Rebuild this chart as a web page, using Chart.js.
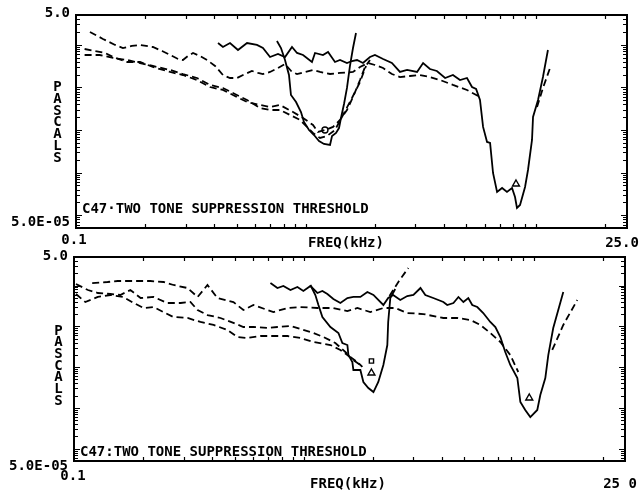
<!DOCTYPE html>
<html>
<head>
<meta charset="utf-8">
<script src="https://cdn.jsdelivr.net/npm/chart.js@4/dist/chart.umd.min.js"></script>
<style>
  html, body { margin: 0; padding: 0; background: #fff; }
  #wrap { position: relative; width: 640px; height: 495px; overflow: hidden; background: #fff; }
  canvas { position: absolute; left: 0; }
  #upper { top: 0; }
  #lower { top: 245px; }
</style>
</head>
<body>
<div id="wrap">
  <canvas id="upper" width="640" height="250"></canvas>
  <canvas id="lower" width="640" height="250"></canvas>
</div>
<script>
// Frequency in kHz, sound pressure in pascals. [kHz, Pa]; a null pressure breaks the line.

// ---- upper panel ----
const upperDashedHigh = [
  [0.115, 2.00], [0.131, 1.37], [0.148, 0.99], [0.160, 0.84], [0.175, 0.94], [0.190, 0.99],
  [0.216, 0.887], [0.237, 0.715], [0.257, 0.575], [0.278, 0.464], [0.292, 0.439], [0.307, 0.545],
  [0.323, 0.642], [0.346, 0.545], [0.372, 0.439], [0.403, 0.318], [0.436, 0.195], [0.468, 0.166],
  [0.502, 0.166], [0.544, 0.206], [0.583, 0.243], [0.620, 0.218], [0.651, 0.206], [0.699, 0.230],
  [0.757, 0.285], [0.812, 0.354], [0.871, 0.230], [0.916, 0.206], [0.992, 0.230], [1.075, 0.256],
  [1.153, 0.230], [1.275, 0.206], [1.409, 0.218], [1.605, 0.230], [1.722, 0.301], [1.866, 0.373],
  [2.00, 0.335], [2.17, 0.285], [2.37, 0.206], [2.57, 0.175], [2.84, 0.185], [3.14, 0.195],
  [3.47, 0.175], [3.84, 0.149], [4.37, 0.114], [5.03, 0.0869], [5.73, 0.0594],
  [8.0, null],
  [10.15, 0.0347], [10.77, 0.0968], [11.56, 0.285]
];
const upperDashedLowA = [
  [0.109, 0.796], [0.121, 0.715], [0.134, 0.642], [0.145, 0.516], [0.167, 0.394], [0.190, 0.394],
  [0.216, 0.301], [0.257, 0.230], [0.292, 0.195], [0.336, 0.149], [0.383, 0.102], [0.436, 0.0869],
  [0.482, 0.0662], [0.555, 0.0454], [0.632, 0.0386], [0.699, 0.0347], [0.772, 0.0386], [0.880, 0.0264],
  [0.973, 0.0191], [1.075, 0.0131], [1.130, 0.00897], [1.212, 0.00998], [1.314, 0.0118], [1.409, 0.0172],
  [1.511, 0.0294], [1.605, 0.0594], [1.722, 0.149], [1.810, 0.301], [1.903, 0.439]
];
const upperDashedLowB = [
  [0.109, 0.575], [0.127, 0.575], [0.145, 0.490], [0.167, 0.439], [0.190, 0.373], [0.216, 0.318],
  [0.257, 0.256], [0.292, 0.206], [0.336, 0.166], [0.383, 0.114], [0.436, 0.0968], [0.482, 0.0738],
  [0.555, 0.0505], [0.632, 0.0328], [0.699, 0.0294], [0.772, 0.0294], [0.854, 0.0225], [0.944, 0.0172],
  [1.012, 0.0118], [1.075, 0.00851], [1.153, 0.00649], [1.237, 0.00723], [1.340, 0.00998], [1.452, 0.0225],
  [1.589, 0.0564], [1.722, 0.134], [1.829, 0.318]
];
const upperSolidFirst = [
  [0.749, 1.23], [0.780, 0.84], [0.812, 0.439], [0.845, 0.195], [0.862, 0.0662], [0.907, 0.0454],
  [0.953, 0.0264], [0.982, 0.0154], [1.033, 0.00998], [1.086, 0.00762], [1.142, 0.00552], [1.200, 0.00469],
  [1.275, 0.00444], [1.301, 0.00723], [1.354, 0.00851], [1.395, 0.0111], [1.423, 0.0191], [1.467, 0.0407],
  [1.511, 0.0968], [1.557, 0.318], [1.605, 0.84], [1.654, 1.89]
];
const upperSolidSecond = [
  [0.415, 1.10], [0.436, 0.887], [0.468, 1.10], [0.507, 0.754], [0.555, 1.10], [0.613, 0.99],
  [0.651, 0.84], [0.699, 0.516], [0.757, 0.608], [0.812, 0.516], [0.871, 0.887], [0.916, 0.642],
  [0.973, 0.575], [1.064, 0.394], [1.097, 0.642], [1.188, 0.575], [1.250, 0.678], [1.340, 0.394],
  [1.409, 0.439], [1.511, 0.373], [1.589, 0.416], [1.671, 0.439], [1.774, 0.373], [1.903, 0.516],
  [2.00, 0.575], [2.17, 0.464], [2.37, 0.373], [2.57, 0.230], [2.76, 0.256], [3.05, 0.230],
  [3.24, 0.373], [3.47, 0.270], [3.72, 0.243], [4.04, 0.166], [4.37, 0.195], [4.69, 0.149],
  [5.03, 0.166], [5.29, 0.102], [5.51, 0.0917], [5.73, 0.0505], [5.91, 0.0118], [6.15, 0.00523],
  [6.34, 0.00495], [6.53, 0.000979], [6.80, 0.000351], [7.15, 0.000436], [7.51, 0.000351], [7.90, 0.000436],
  [8.14, 0.000267], [8.30, 0.000148], [8.56, 0.000174], [9.00, 0.000459], [9.27, 0.00115], [9.65, 0.00582],
  [9.75, 0.0202], [10.25, 0.0505], [10.77, 0.175], [11.32, 0.754]
];
const upperCircles = [[1.212, 0.00998]];
const upperTriangles = [[8.22, 0.000540]];

// ---- lower panel ----
const lowerDashedHigh = [
  [0.120, 1.15], [0.140, 1.22], [0.155, 1.29], [0.182, 1.29], [0.215, 1.29], [0.245, 1.22],
  [0.271, 1.03], [0.312, 0.869], [0.345, 0.524], [0.381, 1.03], [0.421, 0.494], [0.494, 0.394],
  [0.546, 0.251], [0.604, 0.333], [0.695, 0.251], [0.738, 0.224], [0.849, 0.281], [0.967, 0.297],
  [1.146, 0.281], [1.345, 0.281], [1.548, 0.237], [1.711, 0.281], [1.949, 0.224], [2.22, 0.281],
  [2.50, 0.281], [2.82, 0.212], [3.31, 0.200], [4.05, 0.160], [4.66, 0.160], [5.31, 0.143],
  [5.87, 0.108], [6.48, 0.0686], [7.17, 0.0413], [7.92, 0.0198], [8.58, 0.00759],
  [10.0, null],
  [12.06, 0.0263], [13.47, 0.108], [15.50, 0.442]
];
const lowerDashedMid = [
  [0.102, 1.09], [0.115, 0.776], [0.127, 0.656], [0.144, 0.619], [0.159, 0.586], [0.176, 0.776],
  [0.195, 0.494], [0.222, 0.524], [0.255, 0.373], [0.291, 0.373], [0.321, 0.394], [0.345, 0.251],
  [0.381, 0.189], [0.434, 0.160], [0.494, 0.121], [0.546, 0.0962], [0.604, 0.0962], [0.695, 0.0910],
  [0.768, 0.0962], [0.875, 0.102], [0.967, 0.0859], [1.101, 0.0686], [1.217, 0.0547], [1.372, 0.0390],
  [1.517, 0.0235], [1.595, 0.0177], [1.711, 0.0133], [1.799, 0.0101],
  [2.1, null],
  [2.36, 0.553], [2.58, 1.22], [2.85, 2.69]
];
const lowerDashedLow = [
  [0.102, 0.619], [0.112, 0.394], [0.127, 0.524], [0.144, 0.586], [0.164, 0.524], [0.182, 0.373],
  [0.201, 0.281], [0.222, 0.297], [0.245, 0.224], [0.271, 0.169], [0.312, 0.160], [0.355, 0.128],
  [0.405, 0.108], [0.465, 0.0813], [0.514, 0.0547], [0.568, 0.0518], [0.648, 0.0579], [0.738, 0.0579],
  [0.849, 0.0579], [0.967, 0.0518], [1.101, 0.0413], [1.306, 0.0348], [1.443, 0.0263], [1.548, 0.0198],
  [1.644, 0.0149], [1.763, 0.0113]
];
const lowerSolidFirst = [
  [1.069, 1.03], [1.123, 0.586], [1.158, 0.333], [1.205, 0.169], [1.306, 0.0962], [1.415, 0.0686],
  [1.472, 0.0390], [1.548, 0.0348], [1.564, 0.0198], [1.627, 0.0133], [1.644, 0.00849], [1.763, 0.00849],
  [1.817, 0.00432], [1.910, 0.00308], [2.01, 0.00245], [2.11, 0.00432], [2.22, 0.0113], [2.31, 0.0348],
  [2.33, 0.128], [2.38, 0.494], [2.50, 0.822]
];
const lowerSolidSecond = [
  [0.716, 1.15], [0.768, 0.869], [0.815, 0.973], [0.875, 0.776], [0.938, 0.920], [0.996, 0.734],
  [1.069, 0.973], [1.146, 0.656], [1.205, 0.734], [1.267, 0.620], [1.345, 0.468], [1.443, 0.373],
  [1.548, 0.494], [1.644, 0.524], [1.763, 0.524], [1.891, 0.693], [2.01, 0.586], [2.11, 0.442],
  [2.22, 0.333], [2.33, 0.494], [2.45, 0.586], [2.63, 0.442], [2.82, 0.553], [3.00, 0.586],
  [3.22, 0.869], [3.38, 0.586], [3.66, 0.494], [4.05, 0.394], [4.21, 0.333], [4.48, 0.373],
  [4.71, 0.524], [4.95, 0.394], [5.20, 0.494], [5.41, 0.333], [5.69, 0.297], [6.04, 0.212],
  [6.48, 0.128], [6.82, 0.0962], [7.17, 0.0547], [7.53, 0.0235], [7.92, 0.0113], [8.50, 0.00541],
  [8.76, 0.00140], [9.20, 0.000889], [9.68, 0.000598], [10.38, 0.000889], [10.70, 0.00207], [11.25, 0.00541],
  [11.59, 0.0198], [12.18, 0.0910], [13.47, 0.693]
];
const lowerSquares = [[1.97, 0.0141]];
const lowerTriangles = [[1.97, 0.00718], [9.58, 0.00175]];

// ---- axes ----
const freqRange = [0.1, 25];
const pascalRange = [5e-5, 5];
const freqTicks = [0.2, 0.3, 0.4, 0.5, 0.6, 0.7, 0.8, 0.9, 1, 2, 3, 4, 5, 6, 7, 8, 9, 10, 20];
const pascalTicks = [];
for (let e = -5; e <= 0; e++) {
  for (let k = 1; k <= 9; k++) {
    const v = +(k * Math.pow(10, e)).toPrecision(3);
    if (v >= pascalRange[0] && v <= pascalRange[1]) pascalTicks.push(v);
  }
}
const freqLabelsUpper = ['0.1', '25.0'];
const freqLabelsLower = ['0.1', '25 0'];
const pascalLabels = ['5.0', '5.0E-05'];
const freqTitle = 'FREQ(kHz)';
const pascalTitle = 'PASCALS';
const titleUpper = 'C47\u00B7TWO TONE SUPPRESSION THRESHOLD';
const titleLower = 'C47:TWO TONE SUPPRESSION THRESHOLD';

const FONT = 'bold 14px "DejaVu Sans Mono", "Liberation Mono", monospace';

const toPoints = arr => arr.map(([f, p]) => ({ x: f, y: p }));

function lineSet(arr, dashed) {
  return {
    data: toPoints(arr),
    borderColor: '#000',
    borderWidth: 1.8,
    borderDash: dashed ? [7, 4] : [],
    pointRadius: 0,
    fill: false,
    tension: 0,
    spanGaps: false
  };
}
function markerSet(arr, style, radius) {
  return {
    data: toPoints(arr),
    showLine: false,
    pointStyle: style,
    pointRadius: radius,
    pointBorderColor: '#000',
    pointBackgroundColor: 'rgba(255,255,255,0)',
    pointBorderWidth: 1.4
  };
}

// Plotter-style frame, inward ticks and lettering
const plotterFrame = {
  id: 'plotterFrame',
  afterDraw(chart, args, o) {
    const { ctx, chartArea: a, scales: { x, y } } = chart;
    ctx.save();
    ctx.strokeStyle = '#000';
    ctx.lineWidth = 2;
    ctx.setLineDash([]);
    ctx.strokeRect(a.left, a.top, a.right - a.left, a.bottom - a.top);

    ctx.lineWidth = 1.2;
    ctx.beginPath();
    freqTicks.forEach(v => {
      const px = Math.round(x.getPixelForValue(v)) + 0.5;
      ctx.moveTo(px, a.bottom); ctx.lineTo(px, a.bottom - 4);
      ctx.moveTo(px, a.top); ctx.lineTo(px, a.top + 4);
    });
    pascalTicks.forEach(v => {
      const py = Math.round(y.getPixelForValue(v)) + 0.5;
      const len = Math.abs(Math.log10(v) - Math.round(Math.log10(v))) < 1e-6 ? 6 : 4;
      ctx.moveTo(a.left, py); ctx.lineTo(a.left + len, py);
      ctx.moveTo(a.right, py); ctx.lineTo(a.right - len, py);
    });
    ctx.stroke();

    ctx.fillStyle = '#000';
    ctx.font = FONT;
    ctx.textBaseline = 'middle';

    // pressure tick labels
    ctx.textAlign = 'right';
    ctx.fillText(pascalLabels[0], a.left - 6, y.getPixelForValue(pascalRange[1]) + o.yTopDy);
    ctx.fillText(pascalLabels[1], a.left - 6, y.getPixelForValue(pascalRange[0]) + o.yBotDy);

    // frequency tick labels and axis name
    ctx.textAlign = 'center';
    ctx.fillText(o.freqLabels[0], x.getPixelForValue(freqRange[0]) + o.xLeftDx, a.bottom + o.xLeftDy);
    ctx.fillText(o.freqLabels[1], x.getPixelForValue(freqRange[1]) + o.xRightDx, a.bottom + o.xRightDy);
    ctx.fillText(freqTitle, o.freqTitleX, a.bottom + o.freqTitleDy);

    // vertical stacked axis name
    [...pascalTitle].forEach((ch, i) => {
      ctx.fillText(ch, o.pascalX, o.pascalY0 + i * o.pascalStep);
    });

    // caption inside the frame
    ctx.textAlign = 'left';
    ctx.fillText(o.caption, a.left + 6, a.bottom + o.captionDy);
    ctx.restore();
  }
};

function makeChart(id, datasets, padding, frameOpts) {
  return new Chart(document.getElementById(id), {
    type: 'line',
    data: { datasets },
    options: {
      responsive: false,
      animation: false,
      devicePixelRatio: 1,
      events: [],
      layout: { padding },
      scales: {
        x: { type: 'logarithmic', min: freqRange[0], max: freqRange[1], display: false },
        y: { type: 'logarithmic', min: pascalRange[0], max: pascalRange[1], display: false }
      },
      plugins: {
        legend: { display: false },
        tooltip: { enabled: false },
        plotterFrame: frameOpts
      }
    },
    plugins: [plotterFrame]
  });
}

makeChart('upper', [
  lineSet(upperDashedHigh, true),
  lineSet(upperDashedLowA, true),
  lineSet(upperDashedLowB, true),
  lineSet(upperSolidFirst, false),
  lineSet(upperSolidSecond, false),
  markerSet(upperCircles, 'circle', 3),
  markerSet(upperTriangles, 'triangle', 4)
], { left: 76, top: 15, right: 13, bottom: 22 }, {
  freqLabels: freqLabelsUpper,
  yTopDy: -1.5, yBotDy: -6,
  xLeftDx: -2, xLeftDy: 12,
  xRightDx: -5, xRightDy: 15,
  freqTitleX: 346, freqTitleDy: 15,
  pascalX: 57.5, pascalY0: 87.5, pascalStep: 11.75,
  caption: titleUpper, captionDy: -19
});

makeChart('lower', [
  lineSet(lowerDashedHigh, true),
  lineSet(lowerDashedMid, true),
  lineSet(lowerDashedLow, true),
  lineSet(lowerSolidFirst, false),
  lineSet(lowerSolidSecond, false),
  markerSet(lowerSquares, 'rect', 3),
  markerSet(lowerTriangles, 'triangle', 4)
], { left: 74, top: 12, right: 15, bottom: 34 }, {
  freqLabels: freqLabelsLower,
  yTopDy: -1, yBotDy: 5,
  xLeftDx: -1, xLeftDy: 15,
  xRightDx: -5, xRightDy: 23.5,
  freqTitleX: 348, freqTitleDy: 23,
  pascalX: 58.5, pascalY0: 86, pascalStep: 11.7,
  caption: titleLower, captionDy: -9
});
</script>
</body>
</html>
